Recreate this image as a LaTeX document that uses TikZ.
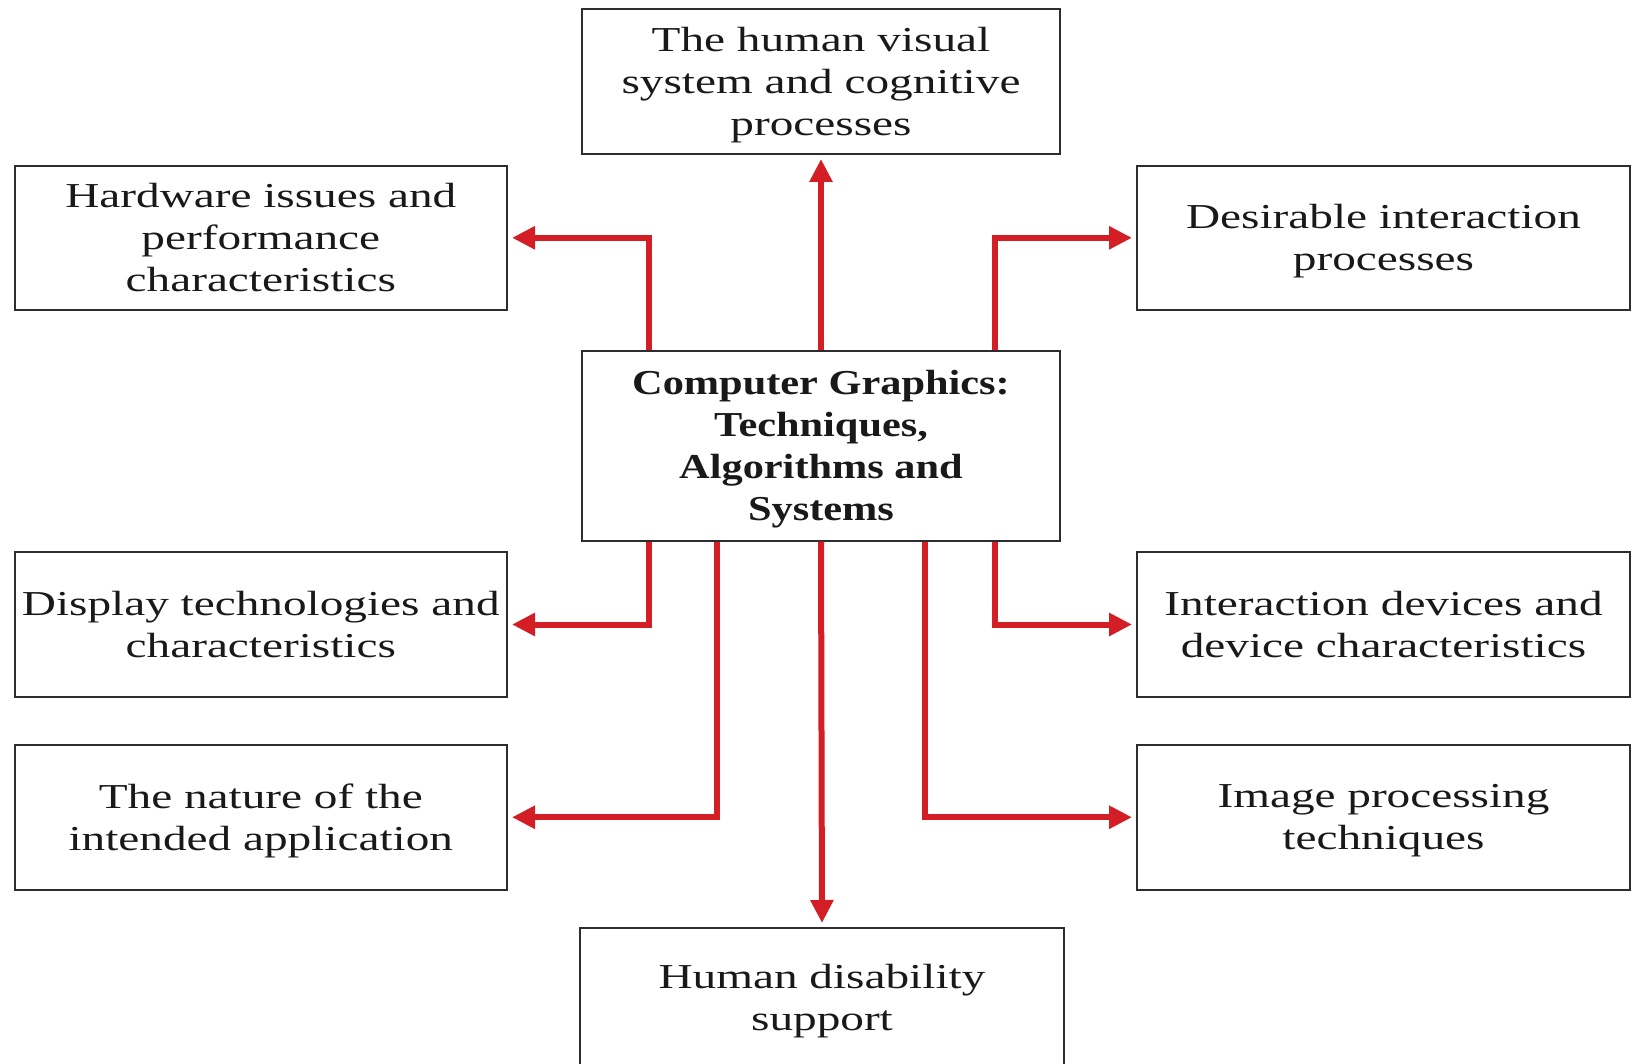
\documentclass[tikz,border=0pt]{standalone}
\usepackage{fontspec}
\setmainfont{Liberation Serif}[FakeStretch=1.35, BoldFeatures={FakeStretch=1.21}]
\usetikzlibrary{arrows.meta}
\definecolor{arrred}{RGB}{210,30,36}
\definecolor{boxgray}{RGB}{45,45,45}
\tikzset{
  box/.style={draw=boxgray, line width=1pt, rectangle, align=center, inner sep=0pt,
    text depth=0pt, font=\fontsize{17.5pt}{21pt}\selectfont, text=black!90},
  arr/.style={draw=arrred, line width=3pt,
    -{Triangle[length=11.5pt,width=11pt]}, shorten >=2pt}
}
\begin{document}
\begin{tikzpicture}[x=0.5pt,y=-0.5pt]
\useasboundingbox (0,0) rectangle (1633,1064);
\node[box, minimum width=239pt, minimum height=72.3pt] (vis) at (821,81.7)
  {The human visual\\system and cognitive\\processes};
\node[box, minimum width=246.2pt, minimum height=72.2pt] (hw) at (260.8,237.8)
  {Hardware issues and\\performance\\characteristics};
\node[box, minimum width=246.5pt, minimum height=72.2pt] (des) at (1383.5,237.8)
  {Desirable interaction\\processes};
\node[box, minimum width=239pt, minimum height=94.75pt, font=\fontsize{17.5pt}{21pt}\selectfont\bfseries] (cg) at (821,445.75)
  {Computer Graphics:\\Techniques,\\Algorithms and\\Systems};
\node[box, minimum width=246.2pt, minimum height=72.5pt] (disp) at (260.8,624.5)
  {Display technologies and\\characteristics};
\node[box, minimum width=246.5pt, minimum height=72.5pt] (intd) at (1383.5,624.5)
  {Interaction devices and\\device characteristics};
\node[box, minimum width=246.2pt, minimum height=72.25pt] (nat) at (260.8,817.25)
  {The nature of the\\intended application};
\node[box, minimum width=246.5pt, minimum height=72.25pt] (img) at (1383.5,817.25)
  {Image processing\\techniques};
\node[box, minimum width=242pt, minimum height=69pt] (dis) at (822,997)
  {Human disability\\support};
% connectors
\draw[arr] (cg.north) -- (vis.south);
\draw[arr] (cg.north -| 649,0) |- (hw.east);
\draw[arr] (cg.north -| 995,0) |- (des.west);
\draw[arr] (cg.south -| 649,0) |- (disp.east);
\draw[arr] (cg.south -| 716.5,0) |- (nat.east);
\draw[arr] (cg.south) -- (dis.north);
\draw[arr] (cg.south -| 995,0) |- (intd.west);
\draw[arr] (cg.south -| 925,0) |- (img.west);
\end{tikzpicture}
\end{document}
